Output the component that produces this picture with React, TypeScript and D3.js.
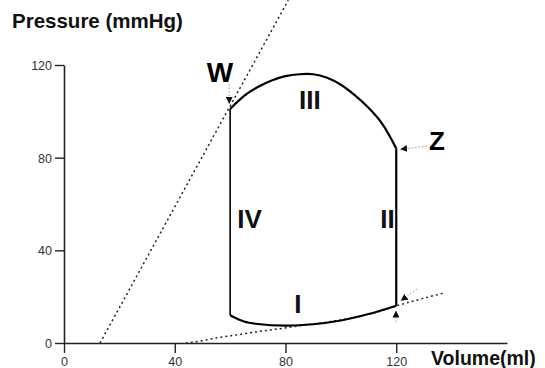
import React, { useRef, useEffect } from "react";
import * as d3 from "d3";

// pressure-volume loop
const topVolume = [60, 63, 66, 70, 75, 80, 85, 90, 95, 100, 105, 110, 115, 120];
const topPressure = [101, 104.5, 107.5, 110.5, 113.3, 115.2, 116, 116, 114.5, 111.5, 107, 101.5, 94.5, 84];
const bottomVolume = [60, 65, 70, 80, 90, 100, 110, 120];
const bottomPressure = [12, 9.3, 8.2, 7.5, 8.1, 9.7, 12.5, 16.1];

// end-systolic and end-diastolic relations (dotted)
const espvrVolume = [13, 81];
const espvrPressure = [0, 148];
const edpvrVolume = [44, 50, 56, 63, 70, 78, 86, 95, 105, 115, 120, 128, 137];
const edpvrPressure = [0, 1, 2.4, 3.6, 4.9, 6.2, 7.6, 9, 11, 14, 16, 18.7, 21.5];

const xTicks = [0, 40, 80, 120];
const yTicks = [0, 40, 80, 120];

// phase labels
const phaseLabels = ["I", "II", "III", "IV"];
const phaseVolume = [84.5, 114.2, 88.8, 62.6];
const phasePressure = [13, 49.8, 101, 49.8];
const phaseAnchor = ["middle", "start", "middle", "start"];

// letter callouts: [from volume, from pressure] -> [to volume, to pressure]
const arrowFromVolume = [59.6, 131.1, 127.5, 119.9];
const arrowFromPressure = [111.8, 85, 23.3, 9.1];
const arrowToVolume = [59.7, 121.4, 121.6, 119.9];
const arrowToPressure = [103.2, 83.6, 18.2, 14];

const W = 545;
const H = 368;

const PVLoop = () => {
  const svgRef = useRef(null);

  useEffect(() => {
    const svg = d3.select(svgRef.current);
    svg.selectAll("*").remove();

    const x = d3.scaleLinear().domain([0, 160]).range([64, 507]);
    const y = d3.scaleLinear().domain([0, 120]).range([343, 65]);

    svg
      .append("defs")
      .append("marker")
      .attr("id", "head")
      .attr("viewBox", "0 0 10 10")
      .attr("refX", 10)
      .attr("refY", 5)
      .attr("markerWidth", 7)
      .attr("markerHeight", 7)
      .attr("markerUnits", "userSpaceOnUse")
      .attr("orient", "auto")
      .append("path")
      .attr("d", "M0,0L10,5L0,10Z")
      .attr("fill", "#111");

    // Axes
    const xAxis = svg
      .append("g")
      .attr("transform", `translate(0, ${y(0)})`)
      .call(d3.axisBottom(x).tickValues(xTicks).tickSize(10).tickSizeOuter(0).tickPadding(4));
    const yAxis = svg
      .append("g")
      .attr("transform", `translate(${x(0)}, 0)`)
      .call(d3.axisLeft(y).tickValues(yTicks).tickSize(9).tickSizeOuter(0).tickPadding(3));
    [xAxis, yAxis].forEach((g) => {
      g.select(".domain").attr("stroke", "#222").attr("stroke-width", 1.6);
      g.selectAll(".tick line").attr("stroke", "#222").attr("stroke-width", 1.4);
      g.selectAll("text")
        .attr("fill", "#333")
        .style("font-family", "Liberation Sans, Arial, sans-serif")
        .style("font-size", "12.5px");
    });
    xAxis.selectAll("text").attr("y", 14);
    yAxis.selectAll("text").attr("dy", "0.36em");

    // Dotted relations
    const line = d3
      .line()
      .x((d) => x(d[0]))
      .y((d) => y(d[1]));
    svg
      .append("path")
      .attr("d", line(d3.zip(espvrVolume, espvrPressure)))
      .attr("fill", "none")
      .attr("stroke", "#222")
      .attr("stroke-width", 1.5)
      .attr("stroke-dasharray", "2,3");
    svg
      .append("path")
      .attr("d", line.curve(d3.curveMonotoneX)(d3.zip(edpvrVolume, edpvrPressure)))
      .attr("fill", "none")
      .attr("stroke", "#222")
      .attr("stroke-width", 1.5)
      .attr("stroke-dasharray", "2,3");

    // Loop
    const curve = d3
      .line()
      .x((d) => x(d[0]))
      .y((d) => y(d[1]))
      .curve(d3.curveCatmullRom);
    const loopStroke = (p) =>
      p.attr("fill", "none").attr("stroke", "#000").attr("stroke-width", 2.2);
    svg.append("path").attr("d", curve(d3.zip(topVolume, topPressure))).call(loopStroke);
    svg.append("path").attr("d", curve(d3.zip(bottomVolume, bottomPressure))).call(loopStroke);
    svg
      .append("path")
      .attr("d", `M${x(120)},${y(topPressure[topPressure.length - 1])}V${y(bottomPressure[bottomPressure.length - 1])}`)
      .call(loopStroke);
    svg
      .append("path")
      .attr("d", `M${x(60)},${y(topPressure[0])}V${y(bottomPressure[0])}`)
      .attr("stroke", "#000")
      .attr("stroke-width", 1.6);

    // Callout arrows
    arrowFromVolume.forEach((v, i) => {
      svg
        .append("line")
        .attr("x1", x(v))
        .attr("y1", y(arrowFromPressure[i]))
        .attr("x2", x(arrowToVolume[i]))
        .attr("y2", y(arrowToPressure[i]))
        .attr("stroke", "#999")
        .attr("stroke-width", 1)
        .attr("stroke-dasharray", "1.5,2")
        .attr("marker-end", "url(#head)");
    });

    // Phase labels
    phaseLabels.forEach((t, i) => {
      svg
        .append("text")
        .attr("x", x(phaseVolume[i]))
        .attr("y", y(phasePressure[i]))
        .attr("text-anchor", phaseAnchor[i])
        .style("font-family", "Liberation Sans, Arial, sans-serif")
        .style("font-weight", "bold")
        .style("font-size", "26px")
        .attr("fill", "#111")
        .text(t);
    });

    // Letters
    svg
      .append("text")
      .attr("x", x(56.3))
      .attr("y", y(112.8))
      .attr("text-anchor", "middle")
      .style("font-family", "Liberation Sans, Arial, sans-serif")
      .style("font-weight", "bold")
      .style("font-size", "28px")
      .text("W");
    svg
      .append("text")
      .attr("x", x(131.8))
      .attr("y", y(83.3))
      .style("font-family", "Liberation Sans, Arial, sans-serif")
      .style("font-weight", "bold")
      .style("font-size", "26px")
      .text("Z");

    // Axis titles
    svg
      .append("text")
      .attr("x", 12)
      .attr("y", 28)
      .style("font-family", "Liberation Sans, Arial, sans-serif")
      .style("font-weight", "bold")
      .style("font-size", "20.5px")
      .attr("fill", "#111")
      .text("Pressure (mmHg)");
    svg
      .append("text")
      .attr("x", 431)
      .attr("y", 365)
      .style("font-family", "Liberation Sans, Arial, sans-serif")
      .style("font-weight", "bold")
      .style("font-size", "19.5px")
      .attr("fill", "#111")
      .text("Volume(ml)");
  }, []);

  return (
    <svg
      ref={svgRef}
      width={W}
      height={H}
      style={{ position: "absolute", left: 0, top: 0, background: "#fff" }}
    ></svg>
  );
};

export default function App() {
  return <PVLoop />;
}
